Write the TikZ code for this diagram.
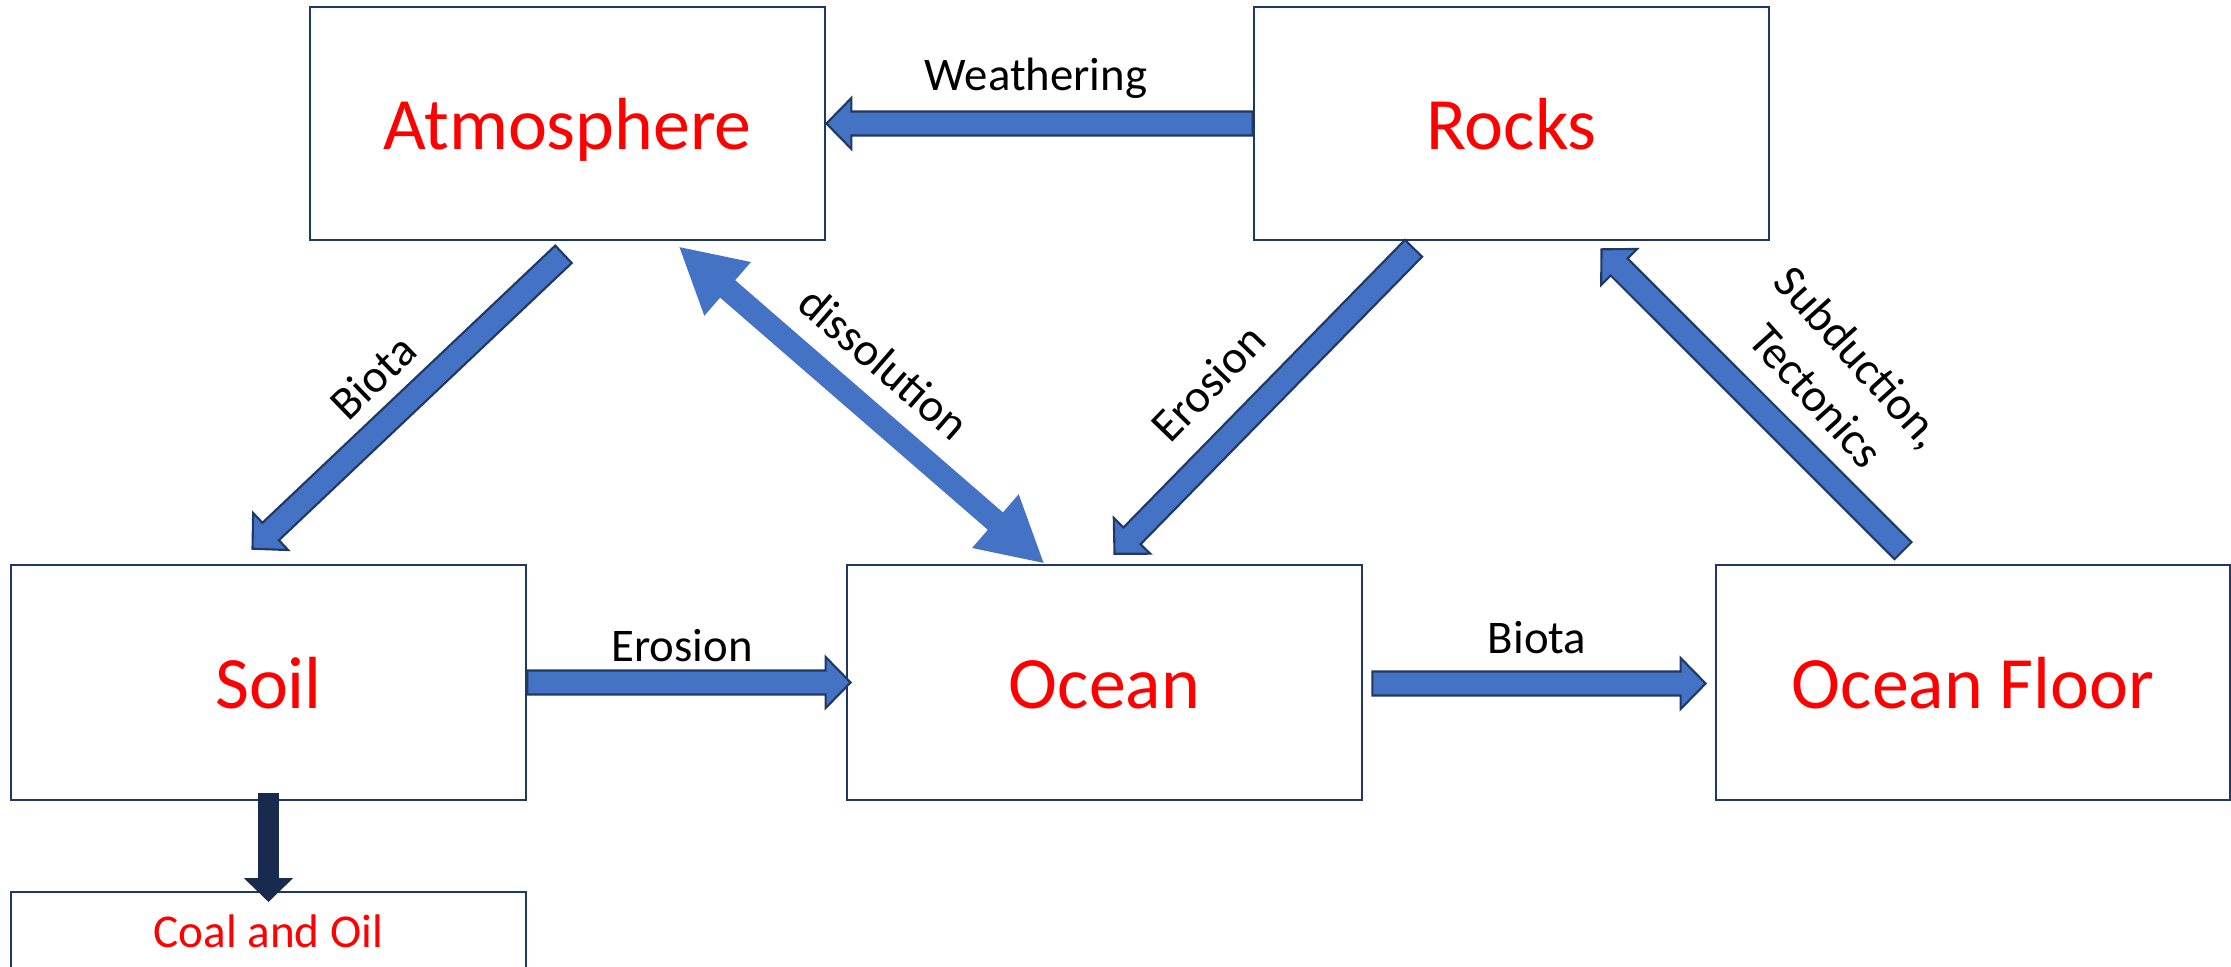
\documentclass[tikz,border=0pt]{standalone}
\usepackage{fontspec}
\setmainfont{Carlito}
\usetikzlibrary{calc,arrows.meta}
\definecolor{boxline}{RGB}{31,56,100}
\definecolor{arrowfill}{RGB}{68,114,196}
\definecolor{coalarrow}{RGB}{24,42,78}
\tikzset{
  box/.style={draw=boxline,line width=0.7pt,rectangle,minimum width=5.15cm,
    minimum height=2.33cm,text=red,font=\fontsize{21}{25}\selectfont,
    text height=0.52cm,text depth=0cm},
  lbl/.style={font=\fontsize{13.3}{15.5}\selectfont,inner sep=0pt},
  flow/.style={fill=arrowfill,draw=boxline,line width=0.6pt,line join=miter}
}
% block arrow from tail #1 to tip #2
\newcommand{\blockarrow}[2]{%
  \coordinate (bt) at (#1);
  \coordinate (bh) at (#2);
  \coordinate (bb) at ($(bh)!0.25cm!(bt)$);
  \filldraw[flow] ($(bt)!0.12cm!90:(bh)$) -- ($(bb)!0.12cm!90:(bh)$)
    -- ($(bb)!0.255cm!90:(bh)$) -- (bh) -- ($(bb)!0.255cm!-90:(bh)$)
    -- ($(bb)!0.12cm!-90:(bh)$) -- ($(bt)!0.12cm!-90:(bh)$) -- cycle;
}

\begin{document}
\begin{tikzpicture}[x=0.01cm,y=-0.01cm]
\useasboundingbox (0,0) rectangle (2231,966);
\clip (0,0) rectangle (2231,966);
% boxes
\node[box] (atm) at (567.5,123.5) {Atmosphere};
\node[box] (rocks) at (1511.5,123.5) {Rocks};
\node[box,minimum height=2.35cm] (soil) at (268.5,682.5) {Soil};
\node[box,minimum height=2.35cm] (ocean) at (1104.5,682.5) {Ocean};
\node[box,minimum height=2.35cm,minimum width=5.14cm] (floor) at (1973,682.5) {Ocean Floor};
\node[box,anchor=north,minimum height=0pt,inner ysep=0.2cm,text height=0.35cm,
  text depth=2cm,font=\fontsize{13.4}{16}\selectfont] (coal) at (268.5,891) {Coal and Oil};
% arrows
\blockarrow{rocks.west}{atm.east}
\blockarrow{soil.east}{[shift={(5,0)}]ocean.west}
\blockarrow{[shift={(9,1)}]ocean.east}{[shift={(-9,1)}]floor.west}
\blockarrow{[shift={(-4,13)}]atm.south}{[shift={(-16,-15)}]soil.north}
\blockarrow{[shift={(-98,7)}]rocks.south}{[shift={(10,-10)}]ocean.north}
\blockarrow{[shift={(-70,-13)}]floor.north}{[shift={(90,8)}]rocks.south}
\draw[line width=0.23cm,arrowfill,{Triangle[width=0.66cm,length=0.65cm]}-{Triangle[width=0.66cm,length=0.65cm]}]
  ([shift={(111,5)}]atm.south) -- ([shift={(-60,0)}]ocean.north);
\draw[line width=0.21cm,coalarrow,-{Triangle[width=0.48cm,length=0.24cm]}]
  ([shift={(0,-8)}]soil.south) -- ([shift={(0,11)}]coal.north);
% labels
\node[lbl,anchor=base] (weathering) at (1036,90) {Weathering};
\node[lbl,anchor=base] (erosion) at (682,661) {Erosion};
\node[lbl,anchor=base] (biota) at (1537,653) {Biota};
\node[lbl,rotate=44] (biotad) at (373,377) {Biota};
\node[lbl,rotate=-41] (dissol) at (884,363) {dissolution};
\node[lbl,rotate=46] (erosiond) at (1208,383) {Erosion};
\node[lbl,rotate=-48,align=center,font=\fontsize{13.3}{16.5}\selectfont] (subduct) at (1838,376) {Subduction,\\Tectonics};
\end{tikzpicture}
\end{document}
